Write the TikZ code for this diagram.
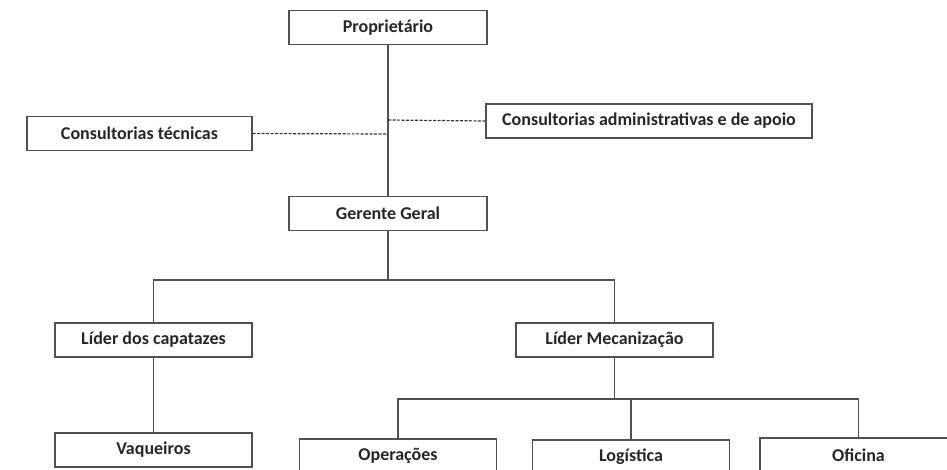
\documentclass[tikz,border=0pt]{standalone}
\usepackage{fontspec}
\setmainfont{Carlito}
\definecolor{line_gray}{RGB}{80, 80, 80}
\tikzstyle{unit}=[draw=line_gray, line width=1.1pt, font=\fontsize{18}{20}\selectfont\bfseries, text=black!85, minimum width=197pt, minimum height=34pt, inner sep=0pt]
\tikzstyle{link}=[draw=line_gray, line width=1.3pt]
\tikzstyle{consult}=[draw=black!80, line width=1.2pt, dash pattern=on 3pt off 1.5pt]

\begin{document}
\begin{tikzpicture}[x=1pt, y=-1pt]
    \path[use as bounding box, clip] (0, 0) rectangle (947, 469);
    % top levels
    \node[unit, minimum width=198pt] (prop) at (388, 27.5) {Proprietário};
    \node[unit, minimum width=225pt] (ctec) at (139.5, 133.5) {Consultorias técnicas};
    \node[unit, minimum width=326pt] (cadm) at (649, 121) {Consultorias administrativas e de apoio};
    \node[unit, minimum width=198pt] (ger) at (388, 213.5) {Gerente Geral};
    % leaders
    \node[unit] (lcap) at (153.5, 340) {Líder dos capatazes};
    \node[unit] (lmec) at (614.5, 340) {Líder Mecanização};
    % teams
    \node[unit] (vaq) at (153.5, 450) {Vaqueiros};
    \node[unit] (oper) at (398, 456) {Operações};
    \node[unit] (log) at (631, 457) {Logística};
    \node[unit] (ofi) at (858.5, 455) {Oficina};
    \coordinate (cten) at (388, 134);
    \coordinate (cadn) at (388, 120);
    \coordinate (busg) at (388, 280);
    \coordinate (busm) at (614.5, 399);
    % connectors
    \draw[link] (prop.south) -- (ger.north);
    \draw[consult] (ctec.east) -- (cten);
    \draw[consult] (cadn) -- (cadm.west);
    \draw[link] (ger.south) -- (busg);
    \draw[link] (lcap.north) |- (busg) -| (lmec.north);
    \draw[link] (lcap.south) -- (vaq.north);
    \draw[link] (lmec.south) -- (busm);
    \draw[link] (oper.north) -- (oper.north |- busm) -| (ofi.north);
    \draw[link] (log.north) -- (log.north |- busm);
\end{tikzpicture}
\end{document}
